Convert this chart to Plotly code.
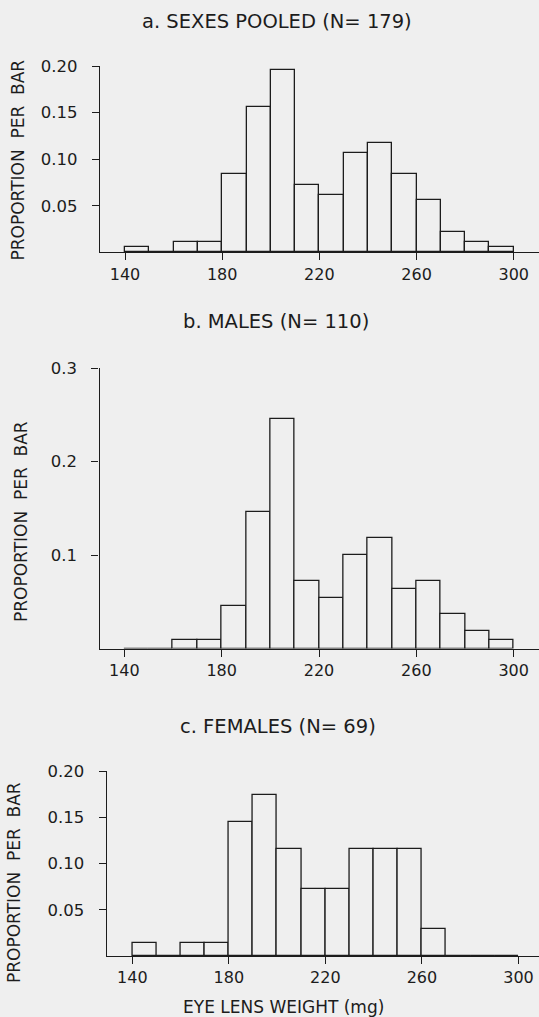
import plotly.graph_objects as go

# ---- data ----
bin_starts = [140, 150, 160, 170, 180, 190, 200, 210, 220, 230, 240, 250, 260, 270, 280, 290]
bin_width = 10

pooled = [0.0056, 0.0, 0.0112, 0.0112, 0.0838, 0.1564, 0.1955, 0.0726,
          0.0615, 0.1061, 0.1173, 0.0838, 0.0559, 0.0223, 0.0112, 0.0056]
males = [0.0, 0.0, 0.0091, 0.0091, 0.0455, 0.1455, 0.2455, 0.0727,
         0.0545, 0.1000, 0.1182, 0.0636, 0.0727, 0.0364, 0.0182, 0.0091]
females = [0.0145, 0.0, 0.0145, 0.0145, 0.1449, 0.1739, 0.1159, 0.0725,
           0.0725, 0.1159, 0.1159, 0.1159, 0.0290, 0.0, 0.0, 0.0]

titles = ["a. SEXES POOLED (N= 179)", "b. MALES (N= 110)", "c. FEMALES (N= 69)"]
x_ticks = [140, 180, 220, 260, 300]
y_ticks_a = [0.05, 0.10, 0.15, 0.20]
y_ticks_b = [0.1, 0.2, 0.3]
y_ticks_c = [0.05, 0.10, 0.15, 0.20]
y_label = "PROPORTION  PER  BAR"
x_label = "EYE LENS WEIGHT (mg)"

# ---- layout geometry ----
W, H = 539, 1017
BG = "#efefef"
INK = "#1c1c1c"
FONT = "DejaVu Sans"

def px(v):
    return v / W

def py(v):
    return 1 - v / H

panels = [
    dict(series=pooled, yt=y_ticks_a, fmt="{:.2f}", yr=[0, 0.2], xr=[129.7, 310.4],
         xdom=[px(100), 1.0], ydom=[py(252.3), py(66)]),
    dict(series=males, yt=y_ticks_b, fmt="{:.1f}", yr=[0, 0.3], xr=[129.8, 310.4],
         xdom=[px(99.5), 1.0], ydom=[py(648.5), py(368)]),
    dict(series=females, yt=y_ticks_c, fmt="{:.2f}", yr=[0, 0.2], xr=[129.4, 308.5],
         xdom=[px(106.7), 1.0], ydom=[py(956), py(771)]),
]

fig = go.Figure()
layout = {}
for i, p in enumerate(panels, start=1):
    xa = "x" if i == 1 else f"x{i}"
    ya = "y" if i == 1 else f"y{i}"
    fig.add_trace(go.Bar(
        x=bin_starts, y=p["series"], width=bin_width, offset=0,
        xaxis=xa, yaxis=ya,
        marker=dict(color=BG, line=dict(color=INK, width=1.3)),
        showlegend=False, hoverinfo="skip",
    ))
    layout[f"xaxis{'' if i == 1 else i}"] = dict(
        domain=p["xdom"], range=p["xr"], anchor=ya, automargin=False,
        tickvals=x_ticks, ticktext=[str(t) for t in x_ticks],
        ticks="outside", ticklen=7, tickwidth=1, tickcolor=INK,
        showline=True, linecolor=INK, linewidth=1.3,
        showgrid=False, zeroline=False,
        tickfont=dict(family=FONT, size=16, color=INK),
    )
    layout[f"yaxis{'' if i == 1 else i}"] = dict(
        domain=p["ydom"], range=p["yr"], anchor=xa, automargin=False,
        tickvals=p["yt"], ticktext=[p["fmt"].format(t) for t in p["yt"]],
        ticks="outside", ticklen=7, tickwidth=1, tickcolor=INK,
        ticklabelstandoff=11,
        showline=True, linecolor=INK, linewidth=1.3,
        showgrid=False, zeroline=False,
        tickfont=dict(family=FONT, size=16.5, color=INK),
    )

annotations = []
title_pos = [(277, 21.7), (276, 321.7), (278, 726)]
for t, (xp, yp) in zip(titles, title_pos):
    annotations.append(dict(text=t, x=px(xp), y=py(yp), xref="paper", yref="paper",
                            xanchor="center", yanchor="middle", showarrow=False,
                            font=dict(family=FONT, size=19.5, color=INK)))
ylab_pos = [(17.5, 160), (21, 522), (14, 883)]
for xp, yp in ylab_pos:
    annotations.append(dict(text=y_label, x=px(xp), y=py(yp), xref="paper", yref="paper",
                            xanchor="center", yanchor="middle", showarrow=False, textangle=-90,
                            font=dict(family=FONT, size=17, color=INK)))
annotations.append(dict(text=x_label, x=px(283), y=py(1007), xref="paper", yref="paper",
                        xanchor="center", yanchor="middle", showarrow=False,
                        font=dict(family=FONT, size=17, color=INK)))

fig.update_layout(
    width=W, height=H,
    margin=dict(l=0, r=0, t=0, b=0, pad=0),
    paper_bgcolor=BG, plot_bgcolor=BG,
    bargap=0,
    annotations=annotations,
    **layout,
)

fig.write_html(
    "out.html",
    config={"displayModeBar": False},
    post_script="document.body.style.margin='0';document.body.style.overflow='hidden';"
                "document.documentElement.style.overflow='hidden';",
)
